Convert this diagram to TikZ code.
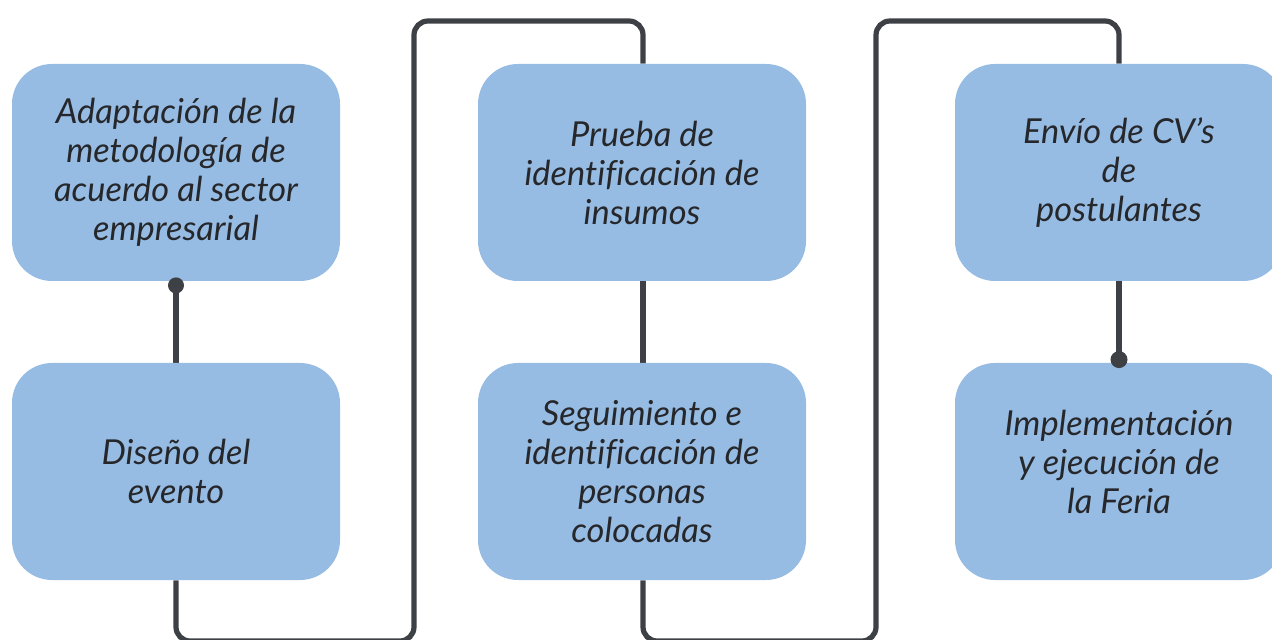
\documentclass[tikz,border=0pt]{standalone}
\usepackage{fontspec}
\setmainfont{Lato}[Ligatures=NoCommon]
\usetikzlibrary{backgrounds}
\definecolor{boxblue}{HTML}{97BCE3}
\definecolor{linegray}{HTML}{3D4045}
\definecolor{txt}{HTML}{26272B}
\tikzset{
  steptext/.style={align=center, text=txt, font=\fontsize{17.2}{19.5}\selectfont\itshape, inner sep=0pt},
  stepbox/.style={steptext, fill=boxblue, rounded corners=20pt, minimum width=164pt, minimum height=108.5pt},
  conn/.style={draw=linegray, line width=2.6pt},
  loop/.style={conn, rounded corners=7pt},
  dotend/.style={fill=linegray, draw=none}
}
\begin{document}
\begin{tikzpicture}[x=0.5pt, y=-0.5pt]
\useasboundingbox (0,0) rectangle (1272,640);
\clip (0,0) rectangle (1272,640);
\node[stepbox] (b1) at (176,172.5) {Adaptación de la\\metodología de\\acuerdo al sector\\empresarial};
\node[stepbox] (b2) at (176,471.5) {Diseño del\\evento};
\node[stepbox] (b3) at (642,172.5) {Prueba de\\identificación de\\insumos};
\node[stepbox] (b4) at (642,471.5) {Seguimiento e\\identificación de\\personas\\colocadas};
\node[stepbox] (b5) at (1119,172.5) {Envío de CV’s\\de\\postulantes};
\node[stepbox] (b6) at (1119,471.5) {};
\node[steptext] (t6) at ([yshift=5pt]b6.center) {Implementación\\y ejecución de\\la Feria};
\coordinate (d1) at ([yshift=-2pt]b1.south);
\coordinate (d2) at ([yshift=1.5pt]b6.north);
\begin{scope}[on background layer]
  \draw[conn] (d1) -- (b2.north);
  \draw[loop] (b2.south) -- (176,641) -- (414,641) -- (414,21) -- (643,21) -- (b3.north -| 643,0);
  \draw[conn] (b3.south -| 643,0) -- (b4.north -| 643,0);
  \draw[loop] (b4.south -| 643,0) -- (643,641) -- (876,641) -- (876,21) -- (1119,21) -- (b5.north);
  \draw[conn] (b5.south) -- (d2);
\end{scope}
\fill[dotend] (d1) circle (8);
\fill[dotend] (d2) circle (8.5);
\end{tikzpicture}
\end{document}
